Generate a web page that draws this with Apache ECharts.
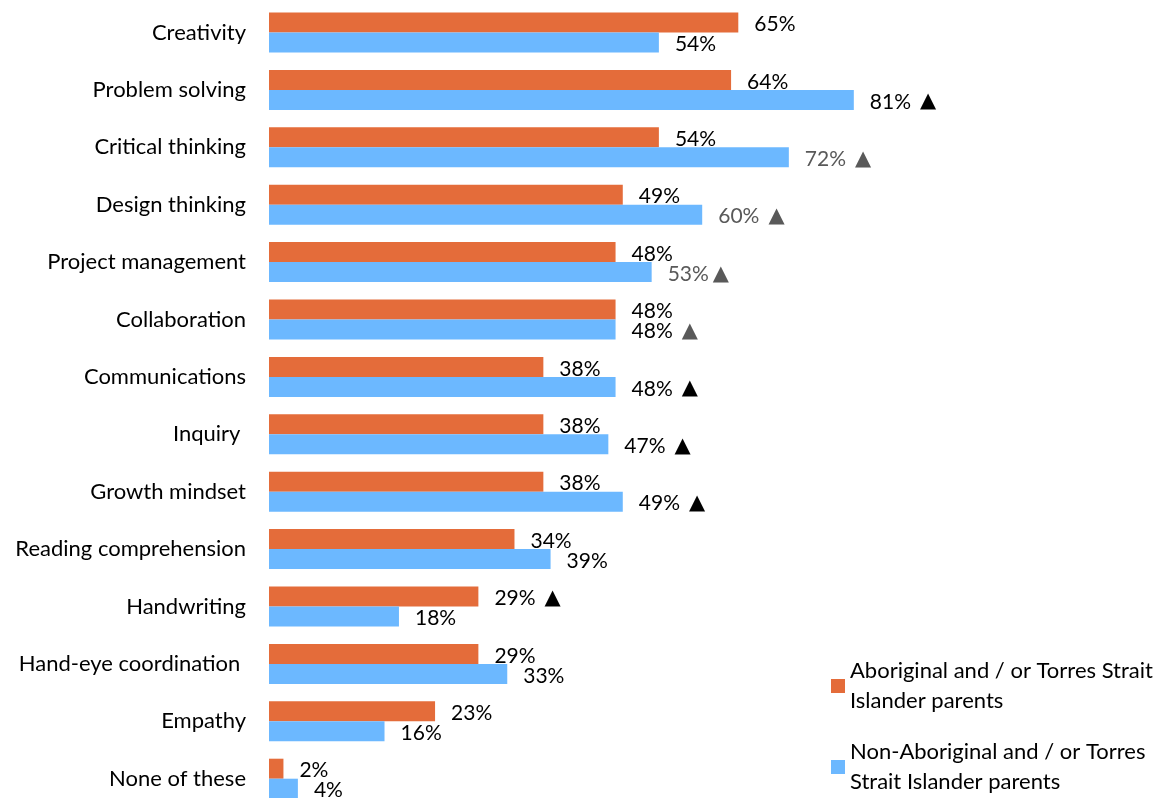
<!DOCTYPE html>
<html>
<head>
<meta charset="utf-8">
<script src="https://cdn.jsdelivr.net/npm/echarts@6/dist/echarts.min.js"></script>
<style>html,body{margin:0;padding:0;background:#fff}#c{width:1169px;height:798px}</style>
</head>
<body>
<div id="c"></div>
<script>
const categories = ['Creativity','Problem solving','Critical thinking','Design thinking','Project management','Collaboration','Communications','Inquiry ','Growth mindset','Reading comprehension','Handwriting','Hand-eye coordination ','Empathy','None of these'];
const seriesNames = ['Aboriginal and / or Torres Strait\nIslander parents','Non-Aboriginal and / or Torres\nStrait Islander parents'];
const aboriginal = [65,64,54,49,48,48,38,38,38,34,29,29,23,2];
const nonAboriginal = [54,81,72,60,53,48,48,47,49,39,18,33,16,4];
// significance markers: '' none, 'b' black, 'g' gray, 'gt' gray tight, 'm' black number + gray triangle
const aboriginalMarks = ['','','','','','','','','','','b','','',''];
const nonAboriginalMarks = ['','b','g','g','gt','m','b','b','b','','','','',''];

const FONT = 'Lato, "Open Sans", sans-serif';
function fmt(marks){
  return function(p){
    const v = p.value + '%';
    const m = marks[p.dataIndex];
    if (m === 'b') return '{n|' + v + '}{tb|▲}';
    if (m === 'g') return '{g|' + v + '}{tg|▲}';
    if (m === 'gt') return '{g|' + v + '}{tgt|▲}';
    if (m === 'm') return '{n|' + v + '}{tg|▲}';
    return '{n|' + v + '}';
  };
}
const rich = {
  n: {color:'#000', fontSize:21, fontFamily:FONT},
  g: {color:'#595959', fontSize:21, fontFamily:FONT},
  tb: {color:'#000', fontSize:21, fontFamily:'DejaVu Sans', padding:[0,0,0,9]},
  tg: {color:'#595959', fontSize:21, fontFamily:'DejaVu Sans', padding:[0,0,0,9]},
  tgt: {color:'#595959', fontSize:21, fontFamily:'DejaVu Sans', padding:[0,0,0,4]}
};
const legendText = {fontSize:22, color:'#000', fontFamily:FONT, lineHeight:30, padding:[30,0,0,0]};
const chart = echarts.init(document.getElementById('c'), null, {renderer:'canvas'});
chart.setOption({
  animation:false,
  backgroundColor:'#fff',
  grid:{left:269, width:722, top:3.8, height:803.6, containLabel:false, outerBoundsMode:'none'},
  xAxis:{type:'value', min:0, max:100, show:false},
  yAxis:{type:'category', inverse:true, data:categories,
    axisLine:{show:false}, axisTick:{show:false},
    axisLabel:{margin:23, fontSize:22, color:'#000', fontFamily:FONT}},
  legend:[
    {data:[seriesNames[0]], left:826, top:636, orient:'vertical', itemWidth:14, itemHeight:14,
     icon:'rect', textStyle:legendText},
    {data:[seriesNames[1]], left:826, top:717, orient:'vertical', itemWidth:14, itemHeight:14,
     icon:'rect', textStyle:legendText}
  ],
  series:[
    {name:seriesNames[0], type:'bar', data:aboriginal, barWidth:20, barGap:'0%',
     itemStyle:{color:'#E46C3A'},
     label:{show:true, position:'right', distance:16, offset:[0,2], formatter:fmt(aboriginalMarks), rich:rich}},
    {name:seriesNames[1], type:'bar', data:nonAboriginal, barWidth:20, barGap:'0%',
     itemStyle:{color:'#6CB8FF'},
     label:{show:true, position:'right', distance:16, offset:[0,2], formatter:fmt(nonAboriginalMarks), rich:rich}}
  ]
});
</script>
</body>
</html>
